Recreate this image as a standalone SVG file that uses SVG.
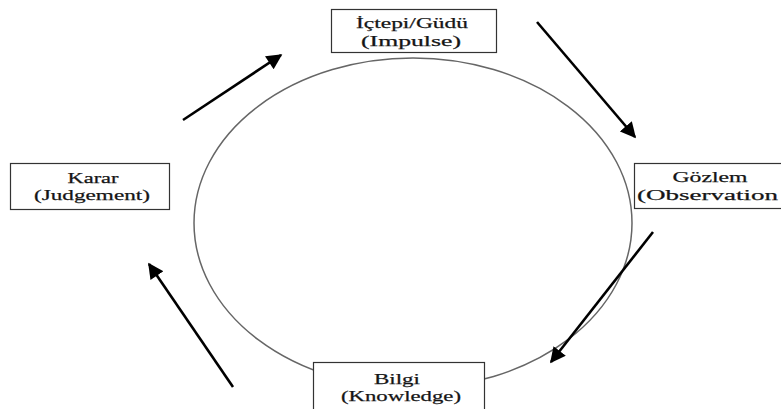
<svg xmlns="http://www.w3.org/2000/svg" width="781" height="409" viewBox="0 0 781 409">
<style>
.box{fill:#fff;stroke:#333;stroke-width:1.2}
.t{font-family:"Liberation Serif","Times New Roman",serif;font-size:15.5px;fill:#151515;stroke:#151515;stroke-width:0.25;text-anchor:middle}
.arr{stroke:#000;stroke-width:2.6;fill:none;marker-end:url(#ah)}
</style>
<defs>
<marker id="ah" viewBox="0 0 10 10" refX="9" refY="5" markerWidth="6.2" markerHeight="6" orient="auto" markerUnits="strokeWidth">
<path d="M0,0 L10,5 L0,10 z" fill="#000"/>
</marker>
</defs>
<rect width="781" height="409" fill="#fff"/>
<ellipse cx="413" cy="223" rx="219" ry="165" fill="none" stroke="#666" stroke-width="1.5"/>
<g id="connectors">
<line class="arr" x1="183" y1="120" x2="281" y2="55"/>
<line class="arr" x1="537" y1="22" x2="635" y2="137"/>
<line class="arr" x1="653" y1="232" x2="551" y2="362"/>
<line class="arr" x1="233" y1="387" x2="149" y2="264"/>
</g>
<g id="node-impulse">
<rect class="box" x="331.5" y="9.5" width="165" height="43"/>
<text class="t" x="412" y="28" textLength="112" lengthAdjust="spacingAndGlyphs">İçtepi/Güdü</text>
<text class="t" x="411" y="45.5" textLength="100" lengthAdjust="spacingAndGlyphs">(Impulse)</text>
</g>
<g id="node-observation">
<rect class="box" x="634.5" y="163.5" width="150" height="45"/>
<text class="t" x="710" y="182" textLength="75" lengthAdjust="spacingAndGlyphs">Gözlem</text>
<text class="t" x="637" y="199.5" textLength="141" lengthAdjust="spacingAndGlyphs" style="text-anchor:start">(Observation</text>
</g>
<g id="node-judgement">
<rect class="box" x="10.5" y="163.5" width="159" height="46"/>
<text class="t" x="93" y="182.5" textLength="51" lengthAdjust="spacingAndGlyphs">Karar</text>
<text class="t" x="92" y="200" textLength="116" lengthAdjust="spacingAndGlyphs">(Judgement)</text>
</g>
<g id="node-knowledge">
<rect class="box" x="313.5" y="362.5" width="171" height="50"/>
<text class="t" x="397" y="383.5" textLength="46" lengthAdjust="spacingAndGlyphs">Bilgi</text>
<text class="t" x="401" y="401" textLength="120" lengthAdjust="spacingAndGlyphs">(Knowledge)</text>
</g>
</svg>
